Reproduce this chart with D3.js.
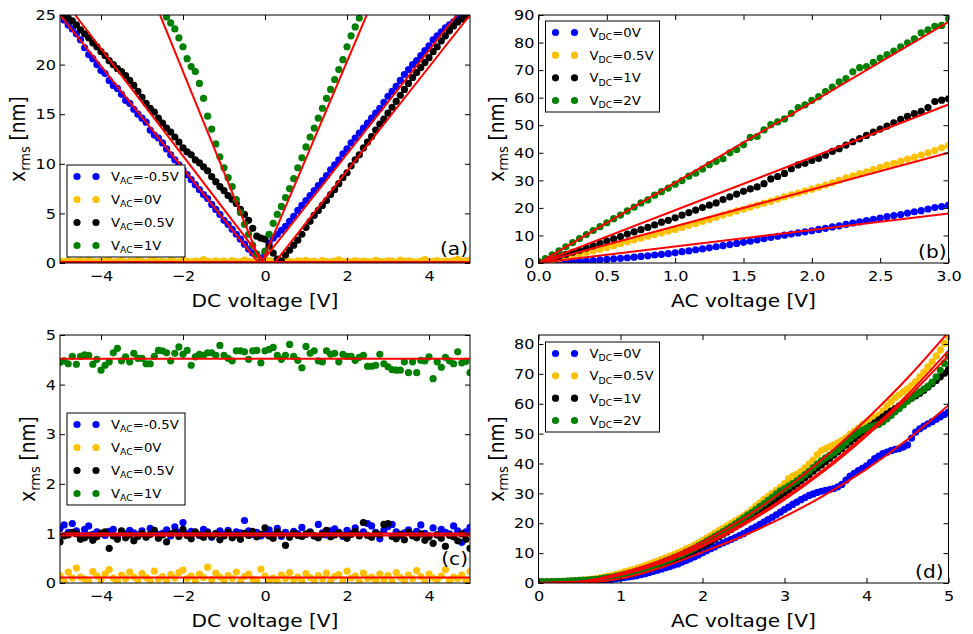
<!DOCTYPE html>
<html>
<head>
<meta charset="utf-8">
<script src="https://cdn.jsdelivr.net/npm/d3@7"></script>
<style>
  body { margin: 0; background: #fff; }
  svg { display: block; }
  svg text { font-family: "DejaVu Sans", sans-serif; fill: #000; }
</style>
</head>
<body>
<div id="chart"></div>
<script>
// ---- sampling grids ----
const dcStart = -5, dcStep = 0.1;      // panels (a) and (c)
const greenStartA = -2.4;              // green series of (a) only shown inside the frame
const acStep = 0.05;                   // panels (b) and (d)

// ---- legend categories ----
const acLegend = ['-0.5V', '0V', '0.5V', '1V'];
const dcLegend = ['0V', '0.5V', '1V', '2V'];
const colors = ['#0000ff', '#ffc000', '#000000', '#008000'];

// ---- (a) x_rms vs DC voltage ----
const blueA = [25.1,24.5,24.0,23.6,23.1,22.5,21.7,21.0,20.6,20.0,
  19.4,19.1,18.4,17.9,17.6,17.0,16.4,16.1,15.5,15.0,
  14.6,14.2,13.4,12.9,12.6,12.1,11.5,10.9,10.4,9.9,
  9.4,8.9,8.4,7.9,7.4,6.9,6.5,5.9,5.4,4.9,
  4.3,3.9,3.4,2.9,2.4,1.9,1.4,1.0,0.6,0.5,
  1.0,
  2.0,2.5,2.9,3.3,3.7,4.2,4.7,5.3,5.8,6.3,
  6.8,7.3,7.8,8.3,8.8,9.4,9.9,10.4,11.0,11.5,
  12.1,12.6,13.1,13.6,14.1,14.6,15.1,15.6,16.2,16.8,
  17.3,17.8,18.4,19.0,19.5,20.0,20.4,20.9,21.4,21.9,
  22.5,22.9,23.3,23.7,24.0,24.3,24.7,25.0,25.3,25.6];
const orangeA = [0.18,0.12,0.25,0.09,0.15,0.22,0.11,0.30,0.14,0.08,
  0.20,0.16,0.27,0.10,0.13,0.24,0.07,0.19,0.12,0.28,
  0.15,0.09,0.21,0.33,0.11,0.17,0.06,0.23,0.14,0.10,
  0.26,0.18,0.08,0.20,0.13,0.35,0.16,0.09,0.22,0.12,
  0.19,0.07,0.25,0.14,0.11,0.28,0.17,0.10,0.21,0.15,
  0.08,0.24,0.13,0.19,0.30,0.11,0.16,0.09,0.22,0.14,
  0.27,0.12,0.18,0.07,0.23,0.15,0.10,0.20,0.31,0.13,
  0.17,0.09,0.24,0.12,0.19,0.14,0.08,0.26,0.16,0.11,
  0.21,0.18,0.10,0.29,0.13,0.22,0.15,0.09,0.20,0.34,
  0.12,0.17,0.25,0.11,0.19,0.14,0.23,0.38,0.16,0.21,0.27];
const blackA = [25.4,25.0,24.7,24.4,24.0,23.5,23.1,22.7,22.2,21.8,
  21.3,20.9,20.4,20.0,19.6,19.3,18.9,18.4,17.9,17.3,
  16.7,16.1,15.6,15.2,14.6,14.1,13.6,13.2,12.7,12.2,
  11.6,11.2,10.9,10.4,10.1,9.7,9.3,8.7,8.2,7.7,
  7.3,6.8,6.4,6.0,5.4,4.9,4.3,3.5,2.7,2.5,
  2.4,
  1.7,1.0,0.4,0.2,0.8,1.3,1.8,2.3,2.9,3.6,
  4.2,4.8,5.3,5.8,6.3,6.9,7.4,8.0,8.6,9.1,
  9.8,10.4,10.9,11.6,12.2,12.75,13.4,14.0,14.5,15.1,
  15.7,16.3,16.9,17.5,18.1,18.7,19.2,19.7,20.2,20.7,
  21.3,21.8,22.4,22.9,23.4,23.9,24.3,24.6,24.9,25.2];
const greenA = [24.8,24.2,23.6,22.7,21.8,20.6,19.8,19.3,18.1,16.6,
  14.8,13.5,12.0,10.7,9.6,8.6,7.7,6.4,5.1,3.9,
  2.9,1.8,0.9,0.2,1.2,2.9,4.0,4.9,5.7,6.6,
  7.5,8.5,9.6,10.6,11.7,12.7,13.6,14.6,15.6,16.6,
  17.5,18.5,19.5,20.5,21.8,22.9,23.8,24.7,25.8];
// fitted V-lines of (a): [start, end] segments in data units
const fitBlueA = [[[-5, 25], [-0.15, 0]], [[-0.1, 0], [4.68, 25]]];
const fitOrangeA = [[[-5, 0.1], [5, 0.1]]];
const fitBlackA = [[[-4.63, 25], [0, 0]], [[0.23, 0], [5, 25]]];
const fitGreenA = [[[-2.56, 25], [-0.1, 0]], [[-0.08, 0], [2.48, 25]]];

// ---- (b) x_rms vs AC voltage, linear fits ----
const blueB = [0.0,0.1,0.2,0.3,0.4,0.5,0.6,0.8,0.9,1.1,
  1.3,1.5,1.7,1.9,2.1,2.4,2.6,2.9,3.1,3.4,
  3.7,4.1,4.4,4.8,5.1,5.5,5.9,6.3,6.7,7.1,
  7.5,7.9,8.4,8.8,9.3,9.7,10.1,10.5,10.9,11.3,
  11.7,12.2,12.6,13.1,13.5,14.0,14.5,14.9,15.4,15.8,
  16.3,16.8,17.2,17.6,18.1,18.6,19.0,19.6,20.1,20.5,21.0];
const orangeB = [0.0,0.4,0.9,1.5,2.0,2.6,3.2,3.8,4.4,5.0,
  5.6,6.3,7.0,7.7,8.4,9.0,9.7,10.3,10.9,11.6,
  12.2,12.9,13.6,14.3,15.1,15.8,16.6,17.4,18.1,18.9,
  19.5,20.3,21.0,21.7,22.4,23.2,24.0,24.7,25.4,26.1,
  26.8,27.5,28.3,29.1,30.0,30.9,31.6,32.4,33.1,33.9,
  34.7,35.5,36.2,36.9,37.7,38.4,39.2,40.0,40.8,41.8,42.6];
const blackB = [0.3,0.8,1.6,2.3,3.1,3.9,4.6,5.4,6.2,7.1,
  8.0,8.8,9.6,10.5,11.3,12.1,12.9,13.8,14.8,15.5,
  16.4,17.4,18.3,19.2,20.1,21.0,21.8,23.0,24.0,25.0,
  26.0,26.9,27.6,28.8,30.5,31.4,32.5,34.2,35.6,36.2,
  37.2,38.0,39.1,40.5,41.5,42.8,44.0,45.1,46.3,47.5,
  48.6,49.7,50.9,52.1,53.2,54.2,55.0,56.4,58.6,59.1,59.6];
const greenB = [0.5,1.6,3.0,4.4,5.9,7.4,8.9,10.3,11.8,13.2,
  14.6,16.1,17.4,18.9,20.3,21.8,22.9,24.6,25.9,27.2,
  28.6,29.9,31.5,32.6,34.1,35.7,36.9,37.8,40.0,41.2,
  42.9,45.6,45.9,48.3,50.2,51.2,52.3,54.3,56.4,57.4,
  59.0,60.4,62.2,63.8,65.7,66.9,69.4,70.9,71.3,72.8,
  74.4,75.6,76.9,78.4,79.9,81.3,83.5,84.6,85.9,86.2,88.6];
const fitB = [
  [[0, 0], [3, 18]],
  [[0, 0], [3, 40]],
  [[0, 0], [3, 57.5]],
  [[0, 0], [3, 87.5]]
];

// ---- (c) flat responses vs DC voltage ----
const blueC = [1.10,1.17,1.02,1.20,1.05,0.95,1.08,1.15,0.98,1.03,
  1.00,0.96,1.04,1.08,0.93,1.02,0.99,1.06,1.01,0.97,
  1.05,0.94,1.10,1.03,0.98,1.00,1.07,0.95,1.13,1.02,
  1.22,0.99,1.04,1.01,0.96,1.08,1.03,0.92,1.00,1.05,
  0.98,1.06,0.97,1.03,1.01,1.26,1.05,0.98,1.02,0.95,
  0.99,1.07,0.97,1.10,0.94,1.02,0.96,1.04,0.99,1.12,
  0.98,1.03,0.95,1.18,1.01,0.97,1.05,1.09,1.02,0.94,
  1.06,1.00,1.11,0.97,1.03,1.20,1.15,1.02,0.89,1.06,
  1.14,1.18,1.03,0.96,1.01,1.07,0.98,1.04,1.17,1.00,
  0.95,1.11,0.97,1.08,1.02,0.99,1.15,1.05,0.82,1.03,1.12];
const orangeC = [0.15,0.03,0.22,0.10,0.30,0.12,0.08,0.05,0.23,0.14,
  0.07,0.18,0.27,0.10,0.04,0.16,0.09,0.22,0.12,0.06,
  0.19,0.11,0.03,0.24,0.08,0.13,0.05,0.17,0.10,0.21,
  0.26,0.09,0.14,0.04,0.18,0.11,0.32,0.07,0.20,0.12,
  0.05,0.15,0.09,0.22,0.03,0.13,0.18,0.08,0.06,0.28,
  0.14,0.05,0.10,0.03,0.16,0.09,0.21,0.07,0.12,0.04,
  0.19,0.11,0.05,0.15,0.08,0.20,0.03,0.13,0.17,0.06,
  0.24,0.10,0.14,0.02,0.20,0.09,0.12,0.05,0.18,0.07,
  0.15,0.03,0.21,0.11,0.06,0.16,0.09,0.25,0.13,0.04,
  0.18,0.10,0.07,0.14,0.27,0.05,0.12,0.09,0.16,0.06,0.23];
const blackC = [0.83,0.95,0.97,1.02,0.99,0.88,0.91,0.96,0.86,0.93,
  1.00,1.03,0.70,0.95,0.88,1.05,0.91,0.97,0.85,0.94,
  1.00,0.92,0.98,1.06,0.90,0.97,0.83,0.99,1.02,0.94,
  1.08,0.96,0.89,1.03,0.97,0.92,1.00,0.94,0.99,0.87,
  0.95,1.02,0.91,0.97,0.88,1.00,0.96,1.04,0.93,0.98,
  1.11,0.95,0.90,1.03,0.97,0.76,0.92,1.00,0.96,0.94,
  0.99,1.02,0.95,0.91,0.98,1.06,0.93,0.97,1.01,0.96,
  0.90,0.98,1.04,0.95,1.22,0.96,0.92,1.00,0.97,1.18,
  1.20,0.94,0.89,0.98,0.87,1.02,0.95,0.91,0.99,0.86,
  0.93,0.80,0.97,0.90,0.74,0.96,0.93,0.85,0.99,0.88,0.70];
const greenC = [4.45,4.48,4.42,4.57,4.41,4.57,4.60,4.59,4.41,4.51,
  4.29,4.39,4.46,4.64,4.73,4.48,4.56,4.46,4.63,4.53,
  4.53,4.42,4.42,4.57,4.69,4.68,4.64,4.48,4.63,4.76,
  4.61,4.69,4.39,4.56,4.61,4.59,4.64,4.64,4.59,4.79,
  4.59,4.53,4.48,4.68,4.68,4.66,4.51,4.68,4.69,4.44,
  4.68,4.71,4.75,4.59,4.51,4.59,4.81,4.57,4.49,4.34,
  4.77,4.63,4.68,4.48,4.46,4.68,4.61,4.63,4.46,4.61,
  4.57,4.57,4.49,4.55,4.59,4.37,4.37,4.39,4.61,4.42,
  4.36,4.30,4.29,4.29,4.46,4.24,4.46,4.24,4.49,4.48,
  4.56,4.12,4.46,4.35,4.55,4.48,4.42,4.66,4.44,4.47,4.24];
const fitLevelsC = [1.0, 0.11, 0.96, 4.52];

// ---- (d) x_rms vs AC voltage, power-law fits ----
const blueD = [0.3,0.3,0.3,0.3,0.3,0.3,0.3,0.3,0.35,0.4,
  0.4,0.45,0.5,0.55,0.6,0.75,0.9,1.05,1.2,1.4,
  1.6,1.8,2.0,2.3,2.5,2.8,3.1,3.5,3.9,4.3,
  4.7,5.1,5.5,6.0,6.4,7.0,7.5,8.1,8.7,9.4,
  10.1,10.8,11.5,12.1,12.8,13.4,14.0,14.6,15.2,15.9,
  16.5,17.3,18.1,18.8,19.6,20.4,21.2,22.0,22.8,23.7,
  24.6,25.4,26.3,27.1,27.9,28.6,29.3,29.8,30.3,30.7,
  31.0,31.3,31.6,32.2,33.0,34.4,35.8,36.7,37.6,38.4,
  39.2,40.4,41.6,42.5,43.3,43.8,44.3,44.7,45.0,45.5,
  46.2,48.5,50.5,51.6,52.5,53.3,54.0,54.8,55.6,56.4,57.2];
const orangeD = [0.3,0.3,0.3,0.35,0.4,0.45,0.5,0.6,0.7,0.8,
  0.9,1.0,1.15,1.3,1.5,1.75,2.0,2.3,2.6,2.9,
  3.3,3.7,4.1,4.5,4.9,5.3,5.8,6.3,6.8,7.3,
  7.9,8.4,9.0,9.5,10.1,10.7,11.4,12.0,12.7,13.4,
  14.2,15.0,15.9,16.7,17.5,18.3,19.1,20.0,20.8,21.6,
  22.5,23.4,24.5,25.7,26.8,28.0,29.0,30.0,31.0,32.1,
  33.3,34.9,35.8,36.4,37.3,38.5,39.9,41.1,43.0,44.3,
  45.0,45.6,46.2,46.9,47.7,48.6,49.8,50.8,51.8,53.0,
  53.8,54.6,55.4,56.2,57.6,59.2,60.6,62.0,63.0,64.0,
  65.0,66.1,67.4,69.0,70.6,72.3,74.0,76.0,78.0,80.2,82.5];
const blackD = [0.3,0.3,0.3,0.3,0.3,0.35,0.4,0.45,0.5,0.55,
  0.6,0.7,0.8,0.9,1.0,1.2,1.4,1.6,1.8,2.0,
  2.3,2.6,2.9,3.2,3.6,4.0,4.4,4.8,5.3,5.8,
  6.3,6.8,7.4,7.9,8.5,9.1,9.7,10.4,11.0,11.7,
  12.4,13.1,13.9,14.7,15.5,16.3,17.1,17.9,18.8,19.7,
  20.6,21.5,22.4,23.3,24.3,25.2,26.2,27.2,28.2,29.2,
  30.2,31.2,32.2,33.2,34.2,35.3,36.3,37.4,38.5,39.5,
  40.6,41.7,42.8,43.9,45.0,46.1,47.2,48.3,49.4,50.5,
  51.6,52.6,53.6,54.6,55.6,56.6,57.5,58.4,59.3,60.2,
  61.0,61.8,62.6,63.5,64.5,65.6,66.7,67.8,69.0,70.2,71.4];
const greenD = [0.4,0.4,0.4,0.4,0.45,0.5,0.55,0.6,0.7,0.8,
  0.85,0.95,1.0,1.1,1.2,1.4,1.6,1.8,2.0,2.3,
  2.6,2.9,3.2,3.6,4.0,4.4,4.8,5.2,5.7,6.2,
  6.8,7.4,7.9,8.5,9.0,9.6,10.3,10.9,11.6,12.4,
  13.2,14.0,14.8,15.6,16.4,17.2,18.0,18.9,19.8,20.7,
  21.7,22.7,23.6,24.6,25.6,26.6,27.7,28.7,29.8,30.8,
  31.6,32.4,33.3,34.2,35.2,36.3,37.4,38.6,39.8,40.9,
  41.9,42.7,43.6,44.6,45.7,47.0,48.4,49.5,50.4,51.2,
  51.8,52.3,52.7,53.1,53.9,55.0,56.1,57.3,58.4,59.6,
  60.8,62.0,63.1,64.0,64.9,65.9,67.2,69.0,71.2,73.5,75.8];
const fitXD = [0, 0.5, 1, 1.5, 2, 2.5, 3, 3.5, 4, 4.5, 5];
const fitBlueD = [0, 0.1, 1.5, 5.2, 10.3, 15.8, 22.2, 29.6, 38.1, 48.0, 59.5];
const fitOrangeD = [0, 0.5, 3.3, 7.6, 13.8, 21.6, 31.2, 42.3, 54.8, 68.6, 84];
const fitBlackD = [0, 0.3, 2.7, 6.7, 12.3, 19.4, 27.9, 37.8, 49.2, 62, 76.2];
const fitGreenD = [0, 0.4, 3.0, 7.0, 12.8, 20.0, 28.6, 38.5, 50, 63, 77.8];

// ---------------------------------------------------------------
const grid = (values, start, step) => values.map((v, i) => [start + i * step, v]);
const zipX = (xs, ys) => xs.map((x, i) => [x, ys[i]]);

const STRETCH = 1.1;   // the reference raster is slightly wider than tall
const svg = d3.select('#chart').append('svg').attr('width', 973).attr('height', 634);

const panels = [
  {
    id: 'a', left: 60, top: 15, w: 410, h: 248,
    xDomain: [-5, 5], yDomain: [0, 25],
    xTicks: [-4, -2, 0, 2, 4], yTicks: [0, 5, 10, 15, 20, 25],
    xFormat: d3.format('d'), xLabel: 'DC voltage [V]', yLabelX: 35,
    tag: '(a)', tagX: -2, tagY: -8,
    legend: { x: 7, y: 150, w: 118, h: 92, sub: 'AC', labels: acLegend },
    series: [grid(blueA, dcStart, dcStep), grid(orangeA, dcStart, dcStep),
             grid(blackA, dcStart, dcStep), grid(greenA, greenStartA, dcStep)],
    fits: [...fitBlueA, ...fitOrangeA, ...fitBlackA, ...fitGreenA], curve: d3.curveLinear
  },
  {
    id: 'b', left: 538.5, top: 15, w: 410, h: 248,
    xDomain: [0, 3], yDomain: [0, 90],
    xTicks: d3.range(0, 3.01, 0.5), yTicks: d3.range(0, 91, 10),
    xFormat: d3.format('.1f'), xLabel: 'AC voltage [V]', yLabelX: 35,
    tag: '(b)', tagX: -2, tagY: -5,
    legend: { x: 7, y: 6, w: 114, h: 91, sub: 'DC', labels: dcLegend },
    series: [grid(blueB, 0, acStep), grid(orangeB, 0, acStep),
             grid(blackB, 0, acStep), grid(greenB, 0, acStep)],
    fits: fitB, curve: d3.curveLinear
  },
  {
    id: 'c', left: 60, top: 335, w: 410, h: 248,
    xDomain: [-5, 5], yDomain: [0, 5],
    xTicks: [-4, -2, 0, 2, 4], yTicks: [0, 1, 2, 3, 4, 5],
    xFormat: d3.format('d'), xLabel: 'DC voltage [V]', yLabelX: 25,
    tag: '(c)', tagX: -2, tagY: -18,
    legend: { x: 7, y: 78, w: 118, h: 92, sub: 'AC', labels: acLegend },
    series: [grid(blueC, dcStart, dcStep), grid(orangeC, dcStart, dcStep),
             grid(blackC, dcStart, dcStep), grid(greenC, dcStart, dcStep)],
    fits: fitLevelsC.map(v => [[-5, v], [5, v]]), curve: d3.curveLinear
  },
  {
    id: 'd', left: 538.5, top: 335, w: 410, h: 248,
    xDomain: [0, 5], yDomain: [0, 83],
    xTicks: [0, 1, 2, 3, 4, 5], yTicks: d3.range(0, 81, 10),
    xFormat: d3.format('d'), xLabel: 'AC voltage [V]', yLabelX: 35,
    tag: '(d)', tagX: -5, tagY: -5,
    legend: { x: 7, y: 7, w: 114, h: 90, sub: 'DC', labels: dcLegend },
    series: [grid(blueD, 0, acStep), grid(orangeD, 0, acStep),
             grid(blackD, 0, acStep), grid(greenD, 0, acStep)],
    fits: [zipX(fitXD, fitBlueD), zipX(fitXD, fitOrangeD), zipX(fitXD, fitBlackD), zipX(fitXD, fitGreenD)],
    curve: d3.curveMonotoneX
  }
];

panels.forEach(drawPanel);

function drawPanel(p) {
  const x = d3.scaleLinear().domain(p.xDomain).range([0, p.w]);
  const y = d3.scaleLinear().domain(p.yDomain).range([p.h, 0]);
  const g = svg.append('g').attr('transform', `translate(${p.left},${p.top})`);

  g.append('clipPath').attr('id', 'clip-' + p.id)
    .append('rect').attr('width', p.w).attr('height', p.h);
  const plot = g.append('g').attr('clip-path', `url(#clip-${p.id})`);

  // data points
  p.series.forEach((pts, i) => {
    plot.append('g').selectAll('circle')
      .data(pts)
      .join('circle')
      .attr('cx', d => x(d[0]))
      .attr('cy', d => y(d[1]))
      .attr('r', 3.6)
      .attr('fill', colors[i]);
  });

  // fits
  const line = d3.line().x(d => x(d[0])).y(d => y(d[1])).curve(p.curve);
  plot.selectAll('path.fit')
    .data(p.fits)
    .join('path')
    .attr('class', 'fit')
    .attr('d', line)
    .attr('fill', 'none')
    .attr('stroke', '#ff0000')
    .attr('stroke-width', 2);

  // ticks on all four sides, pointing inward
  const tickFont = 14.6;
  const bottom = g.append('g').attr('transform', `translate(0,${p.h})`)
    .call(d3.axisBottom(x).tickValues(p.xTicks).tickFormat(p.xFormat).tickSize(-5).tickPadding(8));
  g.append('g').call(d3.axisTop(x).tickValues(p.xTicks).tickFormat('').tickSize(-5));
  const left = g.append('g')
    .call(d3.axisLeft(y).tickValues(p.yTicks).tickFormat(d3.format('d')).tickSize(-5).tickPadding(4));
  g.append('g').attr('transform', `translate(${p.w},0)`)
    .call(d3.axisRight(y).tickValues(p.yTicks).tickFormat('').tickSize(-5));

  g.selectAll('.domain').remove();
  g.selectAll('.tick line').attr('stroke', '#000');
  bottom.selectAll('text')
    .attr('font-size', tickFont).attr('font-family', 'DejaVu Sans')
    .attr('transform', `scale(${STRETCH},1)`);
  left.selectAll('text')
    .attr('font-size', tickFont).attr('font-family', 'DejaVu Sans')
    .attr('x', 0)
    .attr('transform', `translate(-4,0) scale(${STRETCH},1)`);

  // frame
  g.append('rect').attr('width', p.w).attr('height', p.h)
    .attr('fill', 'none').attr('stroke', '#000').attr('stroke-width', 1);

  // axis labels
  g.append('text')
    .attr('transform', `translate(${p.w / 2},${p.h + 43.5}) scale(${STRETCH},1)`)
    .attr('text-anchor', 'middle')
    .attr('font-size', 18.3)
    .text(p.xLabel);

  const yl = g.append('text')
    .attr('transform', `translate(${-p.yLabelX},${p.h / 2}) rotate(-90) scale(1,${STRETCH})`)
    .attr('text-anchor', 'middle')
    .attr('font-size', 18.5);
  yl.append('tspan').text('x');
  yl.append('tspan').attr('font-size', 13).attr('dy', 4.5).text('rms');
  yl.append('tspan').attr('dy', -4.5).text(' [nm]');

  // panel tag
  g.append('text')
    .attr('transform', `translate(${p.w + p.tagX},${p.h + p.tagY}) scale(${STRETCH},1)`)
    .attr('text-anchor', 'end')
    .attr('font-size', 18.3)
    .text(p.tag);

  // legend
  const L = p.legend;
  const lg = g.append('g').attr('transform', `translate(${L.x},${L.y})`);
  lg.append('rect').attr('width', L.w).attr('height', L.h)
    .attr('fill', '#fff').attr('stroke', '#000').attr('stroke-width', 1);
  const rowH = (L.h - 23) / 3;
  L.labels.forEach((lab, i) => {
    const cy = 11.5 + i * rowH;
    [10, 29].forEach(cx => lg.append('circle')
      .attr('cx', cx).attr('cy', cy).attr('r', 3.6).attr('fill', colors[i]));
    const t = lg.append('text')
      .attr('transform', `translate(44,${cy + 4.5}) scale(1.06,1)`)
      .attr('font-size', 12.5);
    t.append('tspan').text('V');
    t.append('tspan').attr('font-size', 8.8).attr('dy', 3.2).text(L.sub);
    t.append('tspan').attr('dy', -3.2).text('=' + lab);
  });
}
</script>
</body>
</html>
